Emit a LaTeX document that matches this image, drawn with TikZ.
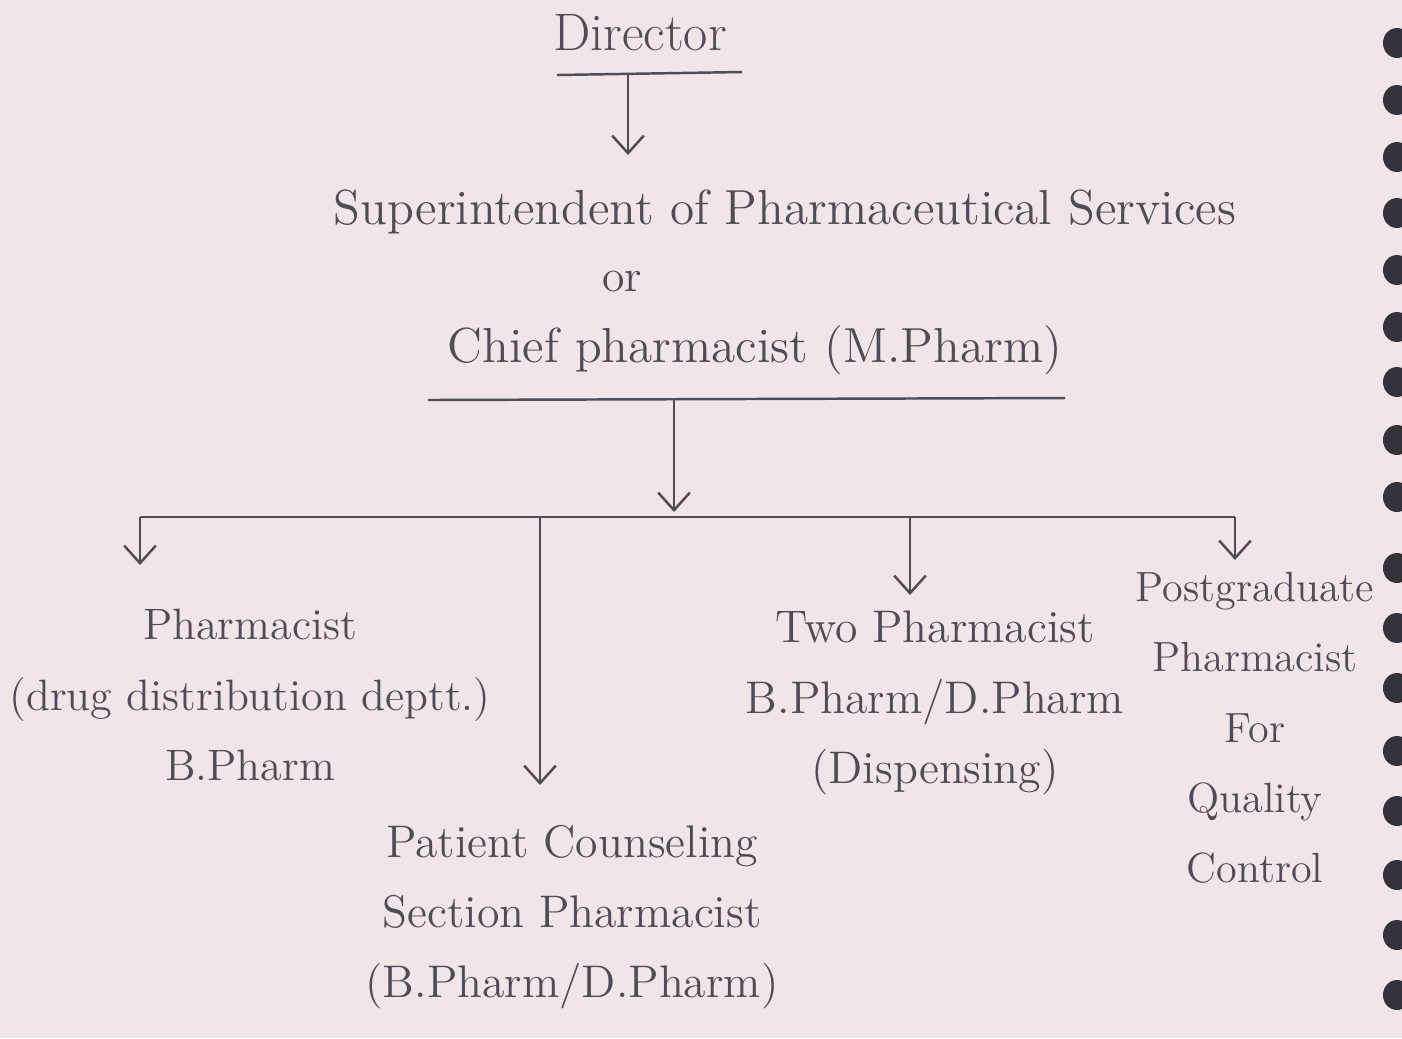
\documentclass[tikz,border=0pt]{standalone}
\usepackage{tikz}
\usetikzlibrary{arrows.meta,positioning}

\definecolor{paper}{RGB}{240,229,232}
\definecolor{pencil}{RGB}{78,76,86}
\definecolor{ring}{RGB}{52,50,58}

\tikzset{
  label/.style={text=pencil, font=\fontsize{13}{20}\selectfont, align=center, inner sep=1pt},
  small/.style={label, font=\fontsize{12}{20}\selectfont},
  line/.style={draw=pencil, line width=0.7pt},
  drop/.style={line, -{Straight Barb[length=5pt,width=9pt]}}
}

\begin{document}
\begin{tikzpicture}[x=0.01cm, y=-0.01cm]
  % Page and notebook rings
  \fill[paper] (0,0) rectangle (1402,1038);
  \useasboundingbox (0,0) rectangle (1402,1038);
  \foreach \yy in {43,100,157,213,270,327,382,440,497,568,628,688,751,811,875,935,995}
    \fill[ring] (1397,\yy) ellipse (14 and 15);

  % Top of the chart
  \node[label, font=\fontsize{15}{20}\selectfont] (dir) at (640,33) {Director};
  \coordinate (dirL) at (557,75);
  \coordinate (dirR) at (742,72);
  \draw[line] (dirL) -- (dirR);

  \node[label, font=\fontsize{14}{22}\selectfont] (sup) at (785,212)
    {Superintendent of Pharmaceutical Services};
  \node[label] (or) at (622,282) {or};
  \node[label, font=\fontsize{14}{22}\selectfont] (chief) at (755,350)
    {Chief pharmacist (M.Pharm)};
  \coordinate (chiefL) at (428,400);
  \coordinate (chiefR) at (1065,398);
  \draw[line] (chiefL) -- (chiefR);

  \coordinate (dirdrop) at (628,74);
  \draw[drop] (dirdrop) -- (628,155);

  % Branch bar
  \coordinate (chiefdrop) at (674,399);
  \coordinate (barL) at (140,517);
  \coordinate (barR) at (1235,517);
  \draw[drop] (chiefdrop) -- (674,512);
  \draw[line] (barL) -- (barR);

  % Staff pharmacists
  \node[label, font=\fontsize{12.5}{20}\selectfont] (dist) at (250,695)
    {Pharmacist\\(drug distribution deptt.)\\B.Pharm};
  \node[label] (couns) at (572,917)
    {Patient Counseling\\Section Pharmacist\\(B.Pharm/D.Pharm)};
  \node[label] (disp) at (935,703)
    {Two Pharmacist\\B.Pharm/D.Pharm\\(Dispensing)};
  \node[small] (qc) at (1255,728)
    {Postgraduate\\Pharmacist\\For\\Quality\\Control};

  \coordinate (b1) at (140,517);
  \coordinate (b2) at (540,517);
  \coordinate (b3) at (910,517);
  \coordinate (b4) at (1235,517);
  \draw[drop] (b1) -- (140,565);
  \draw[drop] (b2) -- (540,785);
  \draw[drop] (b3) -- (910,595);
  \draw[drop] (b4) -- (1235,560);
\end{tikzpicture}
\end{document}
